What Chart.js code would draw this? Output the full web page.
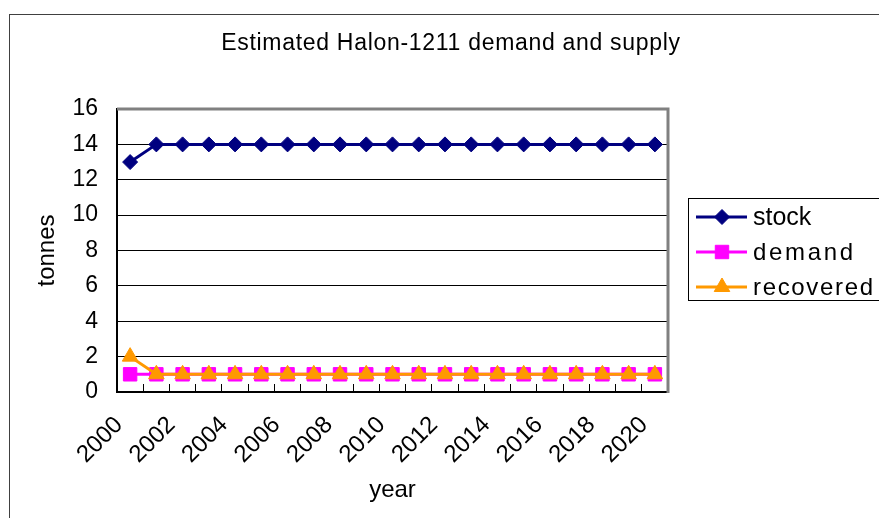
<!DOCTYPE html>
<html>
<head>
<meta charset="utf-8">
<script src="https://cdn.jsdelivr.net/npm/chart.js@4.4.0/dist/chart.umd.min.js"></script>
<style>
  html, body { margin: 0; padding: 0; background: #fff; }
  canvas { display: block; }
</style>
</head>
<body>
<canvas id="halon_chart" width="879" height="518"></canvas>
<script>
var halon_chart = document.getElementById('halon_chart');

// data
const years = ['2000', '2001', '2002', '2003', '2004', '2005', '2006', '2007', '2008', '2009', '2010',
  '2011', '2012', '2013', '2014', '2015', '2016', '2017', '2018', '2019', '2020'];
const yearLabels = ['2000', '2002', '2004', '2006', '2008', '2010', '2012', '2014', '2016', '2018', '2020'];
const stock = [13, 14, 14, 14, 14, 14, 14, 14, 14, 14, 14, 14, 14, 14, 14, 14, 14, 14, 14, 14, 14];
const demand = [1, 1, 1, 1, 1, 1, 1, 1, 1, 1, 1, 1, 1, 1, 1, 1, 1, 1, 1, 1, 1];
const recovered = [2, 1, 1, 1, 1, 1, 1, 1, 1, 1, 1, 1, 1, 1, 1, 1, 1, 1, 1, 1, 1];
const yTicks = [0, 2, 4, 6, 8, 10, 12, 14, 16];
const chartTitle = 'Estimated Halon-1211 demand and supply';

const FONT = '"Liberation Sans", Arial, sans-serif';

// border, title and legend drawn Excel-style
const excelFrame = {
  id: 'excelFrame',
  afterDraw(chart) {
    const ctx = chart.ctx;
    const a = chart.chartArea;
    ctx.save();

    // outer chart border
    ctx.strokeStyle = '#404040';
    ctx.lineWidth = 1;
    ctx.strokeRect(9.5, 14.5, 950, 600);

    // plot area top / right border
    ctx.strokeStyle = '#808080';
    ctx.lineWidth = 3;
    ctx.beginPath();
    ctx.moveTo(a.left, a.top);
    ctx.lineTo(a.right, a.top);
    ctx.lineTo(a.right, a.bottom + 1);
    ctx.stroke();

    // title
    ctx.fillStyle = '#000';
    ctx.font = '23px ' + FONT;
    ctx.textAlign = 'center';
    ctx.textBaseline = 'middle';
    ctx.letterSpacing = '0.7px';
    ctx.fillText(chartTitle, 451, 44);
    ctx.letterSpacing = '0px';

    // legend
    ctx.strokeStyle = '#000';
    ctx.lineWidth = 1;
    ctx.strokeRect(688.5, 198.5, 250, 102);
    const widths = [59, 100, 120];
    chart.data.datasets.forEach((ds, i) => {
      const y = 217 + i * 35;
      ctx.strokeStyle = ds.borderColor;
      ctx.fillStyle = ds.backgroundColor;
      ctx.lineWidth = 3;
      ctx.beginPath();
      ctx.moveTo(696, y);
      ctx.lineTo(747, y);
      ctx.stroke();
      ctx.lineWidth = 1;
      Chart.helpers.drawPoint(ctx, {
        pointStyle: ds.pointStyle, radius: ds.pointRadius, rotation: 0, borderWidth: 1
      }, 722, y);

      ctx.fillStyle = '#000';
      ctx.textAlign = 'left';
      ctx.textBaseline = 'middle';
      if (i === 0) {
        ctx.font = '25px ' + FONT;
        ctx.letterSpacing = '0px';
      } else {
        ctx.font = '24px "Liberation Sans Narrow", ' + FONT;
        const w = ctx.measureText(ds.label).width;
        const n = ds.label.length;
        ctx.letterSpacing = ((widths[i] - w) / (n - 1)) + 'px';
      }
      ctx.fillText(ds.label, 753, y + 1);
      ctx.letterSpacing = '0px';
    });
    ctx.restore();
  }
};

var halonChart = new Chart(halon_chart, {
  type: 'line',
  data: {
    labels: years,
    datasets: [{
      label: 'stock',
      data: stock,
      borderColor: '#000080',
      backgroundColor: '#000080',
      borderWidth: 3,
      pointStyle: 'rectRot',
      pointRadius: 7.5,
      pointBorderWidth: 1,
      order: 2
    }, {
      label: 'demand',
      data: demand,
      borderColor: '#ff00ff',
      backgroundColor: '#ff00ff',
      borderWidth: 3,
      pointStyle: 'rect',
      pointRadius: 9.5,
      pointBorderWidth: 1,
      order: 1
    }, {
      label: 'recovered',
      data: recovered,
      borderColor: '#ff9900',
      backgroundColor: '#ff9900',
      borderWidth: 3,
      pointStyle: 'triangle',
      pointRadius: 9,
      pointBorderWidth: 1,
      order: 0
    }]
  },
  options: {
    responsive: false,
    animation: false,
    tension: 0,
    layout: { padding: { left: 0, top: 109, right: 211, bottom: 0 } },
    plugins: {
      legend: { display: false },
      title: { display: false },
      tooltip: { enabled: false }
    },
    scales: {
      x: {
        type: 'category',
        offset: true,
        afterFit: function(scale) { scale.height = 126; },
        grid: {
          offset: true,
          drawOnChartArea: false,
          drawTicks: true,
          tickLength: -8,
          color: '#000',
          lineWidth: 1
        },
        border: { color: '#000', width: 2 },
        ticks: {
          autoSkip: false,
          minRotation: 45,
          maxRotation: 45,
          labelOffset: -11,
          padding: 27,
          color: '#000',
          font: { family: FONT, size: 24 },
          callback: function(value, index) {
            return yearLabels.includes(years[index]) ? years[index] : '';
          }
        },
        title: {
          display: true,
          text: 'year',
          color: '#000',
          font: { family: FONT, size: 24 },
          padding: { top: 0, bottom: 13 }
        }
      },
      y: {
        min: yTicks[0],
        max: yTicks[yTicks.length - 1],
        afterFit: function(scale) { scale.width = 117; },
        grid: {
          color: '#000',
          lineWidth: 1,
          drawTicks: false
        },
        border: { color: '#000', width: 2 },
        ticks: {
          stepSize: yTicks[1] - yTicks[0],
          padding: 19,
          color: '#000',
          font: { family: FONT, size: 23 }
        },
        title: {
          display: true,
          text: 'tonnes',
          color: '#000',
          font: { family: FONT, size: 24 },
          padding: { top: 33, bottom: 0 }
        }
      }
    }
  },
  plugins: [excelFrame]
});
</script>
</body>
</html>
